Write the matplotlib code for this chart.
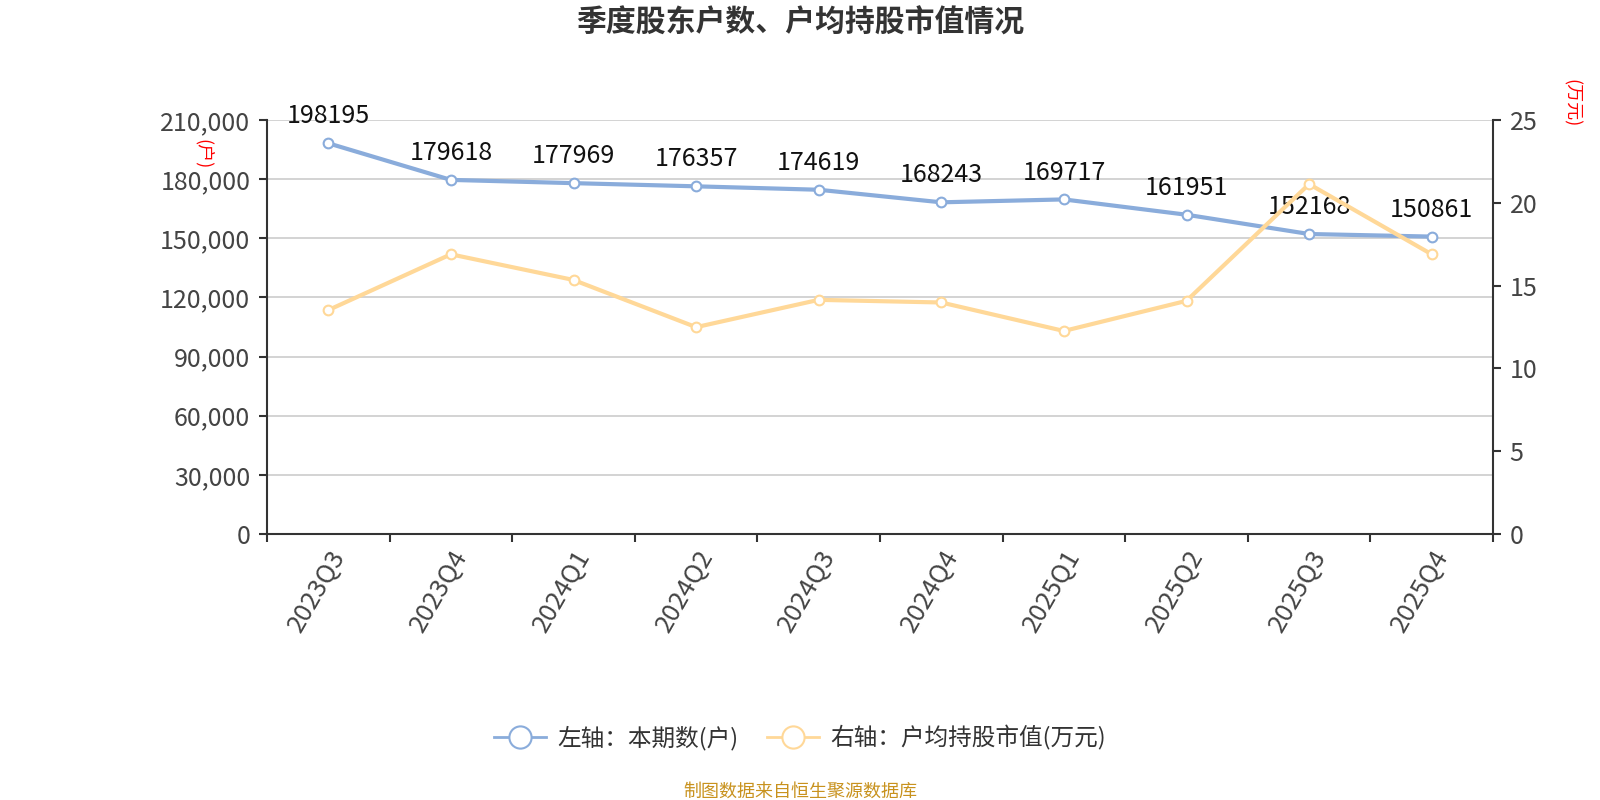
import matplotlib
matplotlib.use("Agg")
import matplotlib.pyplot as plt
from matplotlib.ticker import FuncFormatter, FixedLocator
from matplotlib.lines import Line2D

plt.rcParams['font.family'] = ['Noto Sans CJK SC', 'DejaVu Sans']

categories = ["2023Q3", "2023Q4", "2024Q1", "2024Q2", "2024Q3",
              "2024Q4", "2025Q1", "2025Q2", "2025Q3", "2025Q4"]
holders = [198195, 179618, 177969, 176357, 174619,
           168243, 169717, 161951, 152168, 150861]
avg_value = [13.52, 16.89, 15.34, 12.49, 14.14,
             13.98, 12.26, 14.08, 21.13, 16.89]
left_ticks = [0, 30000, 60000, 90000, 120000, 150000, 180000, 210000]
right_ticks = [0, 5, 10, 15, 20, 25]

title = "季度股东户数、户均持股市值情况"
legend_left = "左轴：本期数(户)"
legend_right = "右轴：户均持股市值(万元)"
source = "制图数据来自恒生聚源数据库"

blue = "#8aacdb"
orange = "#ffd898"
axis_col = "#333333"
tick_col = "#444444"

W, H = 1600, 800
L, R, T, B = 267, 1493, 120, 534

fig = plt.figure(figsize=(16, 8), dpi=100)
ax = fig.add_axes([L/W, 1-B/H, (R-L)/W, (B-T)/H])
ax2 = ax.twinx()

x = list(range(len(categories)))
ax.set_xlim(-0.5, len(categories) - 0.5)
ax.set_ylim(0, 210000)
ax2.set_ylim(0, 25)

ax.set_yticks(left_ticks)
ax.yaxis.set_major_formatter(FuncFormatter(lambda v, p: f"{int(v):,}"))
ax2.set_yticks(right_ticks)

ax.grid(axis='y', color='#cccccc', linewidth=1.2)
ax.set_axisbelow(True)

ax.plot(x, holders, color=blue, linewidth=3, marker='o', markersize=7,
        markerfacecolor='white', markeredgecolor=blue, markeredgewidth=1.5, zorder=4)
ax2.plot(x, avg_value, color=orange, linewidth=3, marker='o', markersize=7,
         markerfacecolor='white', markeredgecolor=orange, markeredgewidth=1.5, zorder=3)

for xi, v in zip(x, holders):
    ax.annotate(str(v), (xi, v), xytext=(0, 10), textcoords='offset points',
                ha='center', va='bottom', fontsize=18, color='#111111', zorder=6)

# x ticks: marks at band boundaries, labels at centers
ax.xaxis.set_major_locator(FixedLocator([i - 0.5 for i in range(len(categories) + 1)]))
ax.xaxis.set_major_formatter(FuncFormatter(lambda v, p: ""))
ax.xaxis.set_minor_locator(FixedLocator(x))
ax.set_xticklabels(categories, minor=True, rotation=60, ha='right',
                   rotation_mode='anchor', fontsize=18.5, color=tick_col)
ax.tick_params(axis='x', which='minor', length=0, pad=8)
ax.tick_params(axis='x', which='major', length=6, width=1.5, color=axis_col)

ax.tick_params(axis='y', length=6, width=1.5, color=axis_col, labelsize=18,
               labelcolor=tick_col, pad=6)
ax2.tick_params(axis='y', length=6, width=1.5, color=axis_col, labelsize=18,
                labelcolor=tick_col, pad=6)

for a in (ax, ax2):
    a.spines['top'].set_visible(False)
ax.spines['left'].set_color(axis_col)
ax.spines['left'].set_linewidth(1.5)
ax.spines['bottom'].set_color(axis_col)
ax.spines['bottom'].set_linewidth(1.5)
ax.spines['right'].set_visible(False)
ax2.spines['left'].set_visible(False)
ax2.spines['bottom'].set_visible(False)
ax2.spines['right'].set_color(axis_col)
ax2.spines['right'].set_linewidth(1.5)

fig.text(0.5, 1 - 23/H, title, ha='center', va='center', fontsize=21.5,
         fontweight='bold', color='#333333')

fig.text(203/W, 1 - 154/H, "(户)", ha='center', va='center', fontsize=13,
         color='red', rotation=-90)
fig.text(1571/W, 1 - 103/H, "(万元)", ha='center', va='center', fontsize=13,
         color='red', rotation=-90)

handles = [
    Line2D([0], [0], color=blue, linewidth=2, marker='o', markersize=16,
           markerfacecolor='white', markeredgecolor=blue, markeredgewidth=1.5),
    Line2D([0], [0], color=orange, linewidth=2, marker='o', markersize=16,
           markerfacecolor='white', markeredgecolor=orange, markeredgewidth=1.5),
]
fig.legend(handles, [legend_left, legend_right], loc='center',
           bbox_to_anchor=(0.5, 1 - 738/H), ncol=2, frameon=False,
           fontsize=17, handlelength=2.2, columnspacing=1.2, handletextpad=0.5,
           labelcolor='#333333')

fig.text(0.5, 1 - 792/H, source, ha='center', va='center', fontsize=13,
         color='#c8921e')

fig.savefig("out.png", dpi=100, facecolor='white')
